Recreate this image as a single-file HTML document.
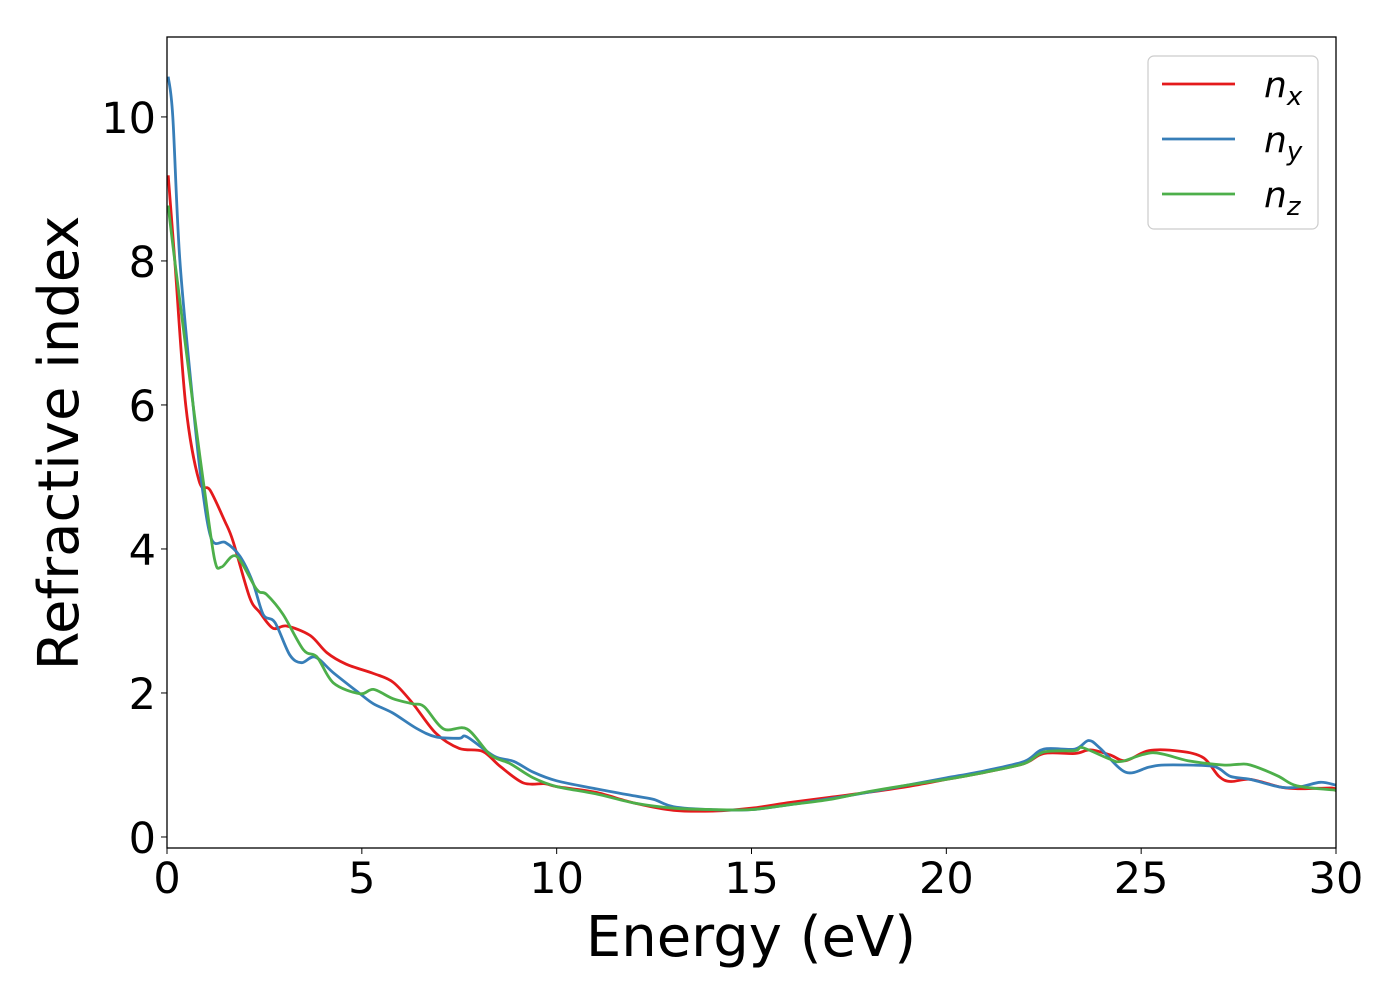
<!DOCTYPE html>
<html><head><meta charset="utf-8"><style>
body{margin:0;background:#fff;}
svg text{font-family:"DejaVu Sans","Liberation Sans",sans-serif;fill:#000;}
</style></head><body>
<svg id="chart" width="1400" height="1000" xmlns="http://www.w3.org/2000/svg">
<rect x="0" y="0" width="1400" height="1000" fill="#fff"/>
<g id="series"></g>
<g id="axes"></g>
<text x="751" y="956" font-size="56" text-anchor="middle">Energy (eV)</text>
<text transform="translate(78,443) rotate(-90)" font-size="56" text-anchor="middle">Refractive index</text>
<g>
<rect x="1148" y="56" width="170" height="173" rx="6" fill="#fff" stroke="#ccc" stroke-width="1.2"/>
<g><line x1="1162" y1="84" x2="1235" y2="84" stroke="#e41a1c" stroke-width="2.8"/><text x="1264" y="97" font-size="36" font-style="italic">n<tspan font-size="26" dy="8">x</tspan></text></g>
<g><line x1="1162" y1="139" x2="1235" y2="139" stroke="#377eb8" stroke-width="2.8"/><text x="1264" y="152" font-size="36" font-style="italic">n<tspan font-size="26" dy="8">y</tspan></text></g>
<g><line x1="1162" y1="194" x2="1235" y2="194" stroke="#4daf4a" stroke-width="2.8"/><text x="1264" y="207" font-size="36" font-style="italic">n<tspan font-size="26" dy="8">z</tspan></text></g>
</g>
</svg>
<script>
const xTicks=[0,5,10,15,20,25,30];
const yTicks=[0,2,4,6,8,10];
const nxE=[0.03,0.2,0.48,0.82,1.1,1.48,1.7,2.12,2.38,2.72,3.07,3.67,4.1,4.6,5.3,5.8,6.3,6.9,7.5,8.1,8.55,9.15,9.7,10,11,12,13,14,15,16,17,18,19,20,21,22,22.5,23.3,23.7,24.2,24.6,25.2,26.0,26.6,27.0,27.3,27.8,28.6,29.1,29.9,30];
const nxV=[9.19,8.0,6.0,4.95,4.82,4.39,4.1,3.33,3.12,2.9,2.93,2.8,2.56,2.4,2.27,2.15,1.86,1.44,1.23,1.19,0.98,0.75,0.74,0.7,0.62,0.47,0.37,0.36,0.4,0.48,0.55,0.62,0.7,0.8,0.9,1.02,1.16,1.16,1.21,1.14,1.06,1.2,1.19,1.1,0.84,0.77,0.8,0.69,0.67,0.68,0.64];
const nyE=[0.03,0.15,0.33,0.67,0.88,1.14,1.5,1.87,2.2,2.47,2.77,3.15,3.45,3.8,4.27,4.95,5.3,5.8,6.4,6.9,7.5,7.7,8.4,8.9,9.4,10,11,12,12.5,13,14,15,16,17,18,19,20,21,22,22.5,23.3,23.65,23.95,24.6,25.2,25.6,26.7,27.0,27.3,27.8,28.6,29.1,29.6,30];
const nyV=[10.56,10.0,8.0,6.0,4.95,4.14,4.09,3.9,3.54,3.09,2.98,2.53,2.42,2.5,2.28,1.99,1.85,1.72,1.51,1.39,1.37,1.39,1.12,1.05,0.9,0.78,0.67,0.57,0.52,0.42,0.38,0.38,0.45,0.53,0.62,0.72,0.82,0.92,1.05,1.22,1.22,1.34,1.23,0.9,0.97,1.0,0.99,0.95,0.84,0.8,0.69,0.7,0.76,0.72];
const nzE=[0.03,0.2,0.67,0.93,1.22,1.4,1.78,2.3,2.55,2.98,3.5,3.85,4.27,4.95,5.3,5.8,6.3,6.6,7.1,7.7,8.3,8.8,9.4,10,11,12,13,14,15,16,17,18,19,20,21,22,22.5,23.3,23.5,24.2,24.5,25.3,26.2,27.1,27.5,27.8,28.5,29.0,30];
const nzV=[8.77,8.0,6.0,4.95,3.86,3.75,3.9,3.44,3.37,3.09,2.6,2.5,2.14,1.99,2.05,1.92,1.85,1.81,1.5,1.5,1.14,1.02,0.82,0.7,0.6,0.47,0.4,0.38,0.38,0.45,0.52,0.63,0.72,0.8,0.9,1.02,1.18,1.2,1.24,1.08,1.05,1.17,1.06,1.0,1.01,1.0,0.85,0.71,0.65];
const X0=167,X1=1336,Y0=848,Y1=37;
const xMin=0,xMax=30,yMin=-0.153,yMax=11.11;
function sx(v){return X0+(v-xMin)/(xMax-xMin)*(X1-X0);}
function sy(v){return Y0-(v-yMin)/(yMax-yMin)*(Y0-Y1);}
const NS="http://www.w3.org/2000/svg";
function smooth(pts){
  let d="M"+pts[0][0].toFixed(1)+","+pts[0][1].toFixed(1);
  for(let i=0;i<pts.length-1;i++){
    const p0=pts[Math.max(0,i-1)],p1=pts[i],p2=pts[i+1],p3=pts[Math.min(pts.length-1,i+2)];
    const t=0.16;
    const c1x=p1[0]+(p2[0]-p0[0])*t,c1y=p1[1]+(p2[1]-p0[1])*t;
    const c2x=p2[0]-(p3[0]-p1[0])*t,c2y=p2[1]-(p3[1]-p1[1])*t;
    d+=" C"+c1x.toFixed(1)+","+c1y.toFixed(1)+" "+c2x.toFixed(1)+","+c2y.toFixed(1)+" "+p2[0].toFixed(1)+","+p2[1].toFixed(1);
  }
  return d;
}
const sg=document.getElementById('series');
const clip=document.createElementNS(NS,'clipPath');clip.setAttribute('id','pc');
const cr=document.createElementNS(NS,'rect');cr.setAttribute('x',X0);cr.setAttribute('y',Y1);cr.setAttribute('width',X1-X0);cr.setAttribute('height',Y0-Y1);
clip.appendChild(cr);sg.appendChild(clip);
[[nxE,nxV,'#e41a1c','line-nx'],[nyE,nyV,'#377eb8','line-ny'],[nzE,nzV,'#4daf4a','line-nz']].forEach(s=>{
  const pts=s[0].map((e,i)=>[sx(e),sy(s[1][i])]);
  const p=document.createElementNS(NS,'path');
  p.setAttribute('d',smooth(pts));p.setAttribute('fill','none');p.setAttribute('stroke',s[2]);
  p.setAttribute('stroke-width','2.8');p.setAttribute('clip-path','url(#pc)');
  
  
  sg.appendChild(p);
});
const ax=document.getElementById('axes');
const fr=document.createElementNS(NS,'rect');
fr.setAttribute('x',X0);fr.setAttribute('y',Y1);fr.setAttribute('width',X1-X0);fr.setAttribute('height',Y0-Y1);
fr.setAttribute('fill','none');fr.setAttribute('stroke','#000');fr.setAttribute('stroke-width','1.3');


ax.appendChild(fr);
xTicks.forEach(v=>{
  const l=document.createElementNS(NS,'line');l.setAttribute('x1',sx(v));l.setAttribute('x2',sx(v));l.setAttribute('y1',Y0);l.setAttribute('y2',Y0+6);l.setAttribute('stroke','#000');
  
  
  ax.appendChild(l);
  const t=document.createElementNS(NS,'text');t.setAttribute('x',sx(v));t.setAttribute('y',893);t.setAttribute('font-size','43');t.setAttribute('text-anchor','middle');t.textContent=v;
  
  
  ax.appendChild(t);
});
yTicks.forEach(v=>{
  const l=document.createElementNS(NS,'line');l.setAttribute('x1',X0-6);l.setAttribute('x2',X0);l.setAttribute('y1',sy(v));l.setAttribute('y2',sy(v));l.setAttribute('stroke','#000');
  
  
  ax.appendChild(l);
  const t=document.createElementNS(NS,'text');t.setAttribute('x',156);t.setAttribute('y',sy(v)+16);t.setAttribute('font-size','43');t.setAttribute('text-anchor','end');t.textContent=v;
  
  
  ax.appendChild(t);
});
</script>
</body></html>
